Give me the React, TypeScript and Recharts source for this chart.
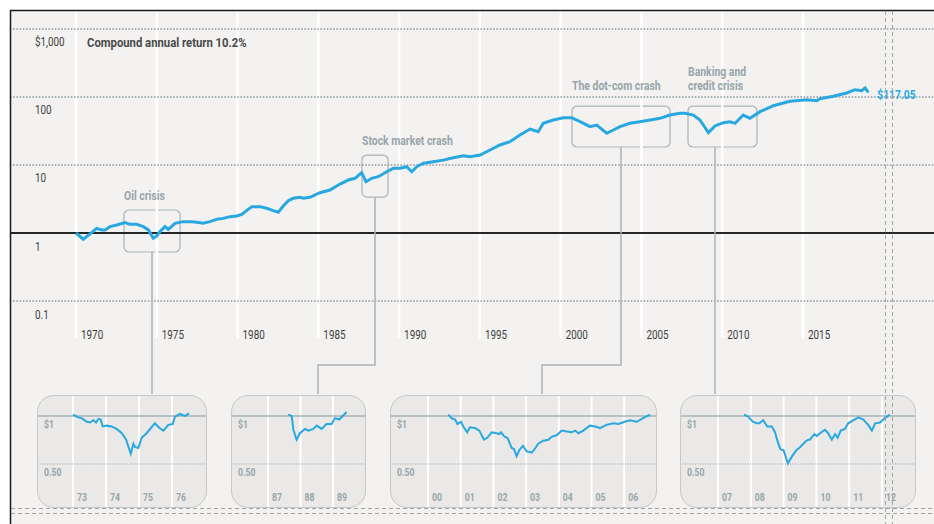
import React from 'react';
import { LineChart, Line, XAxis, YAxis, ReferenceLine, ReferenceArea, ReferenceDot } from 'recharts';

const FONT = "Roboto, 'Liberation Sans', sans-serif";
const BLUE = '#29a8e0';
const GRID_GRAY = '#8e9ca3';
const LABEL_GRAY = '#98a5ab';
const NUM_SCALE = 0.76;
const WORD_SCALE = 0.87;

// ---------- main series ----------
const mainYears = [1970.0, 1970.45, 1970.97, 1971.28, 1971.59, 1971.8, 1972.1, 1972.52, 1973.03, 1973.34, 1973.76, 1974.17, 1974.48, 1974.78, 1974.99, 1975.2, 1975.51, 1975.71, 1976.13, 1976.64, 1977.06, 1977.47, 1977.88, 1978.29, 1978.71, 1979.12, 1979.53, 1979.95, 1980.26, 1980.66, 1980.88, 1981.39, 1981.8, 1982.21, 1982.52, 1982.83, 1983.14, 1983.45, 1983.87, 1984.07, 1984.48, 1985.1, 1985.72, 1986.34, 1986.85, 1987.27, 1987.68, 1987.95, 1988.3, 1988.71, 1989.23, 1989.64, 1990.05, 1990.47, 1990.78, 1991.09, 1991.5, 1992.12, 1992.73, 1993.35, 1993.97, 1994.39, 1995.01, 1995.63, 1996.24, 1996.86, 1997.48, 1998.1, 1998.61, 1998.92, 1999.54, 2000.16, 2000.68, 2001.2, 2001.81, 2002.23, 2002.85, 2003.26, 2003.67, 2004.29, 2004.91, 2005.53, 2006.15, 2006.76, 2007.38, 2007.69, 2008.21, 2008.62, 2008.83, 2009.14, 2009.55, 2010.07, 2010.48, 2010.79, 2011.3, 2011.72, 2012.34, 2013.16, 2014.19, 2015.23, 2015.85, 2016.05, 2016.87, 2017.7, 2018.22, 2018.63, 2018.84, 2019.04];
const mainValues = [1.0, 0.81, 1.01, 1.17, 1.11, 1.11, 1.24, 1.31, 1.42, 1.34, 1.34, 1.24, 1.11, 0.84, 0.9, 1.05, 1.24, 1.13, 1.39, 1.47, 1.47, 1.44, 1.39, 1.47, 1.59, 1.64, 1.74, 1.78, 1.88, 2.23, 2.44, 2.44, 2.31, 2.13, 2.02, 2.5, 2.99, 3.24, 3.35, 3.24, 3.35, 3.91, 4.29, 5.25, 6.01, 6.37, 7.7, 5.68, 6.37, 6.73, 7.97, 8.94, 8.94, 9.44, 7.97, 9.44, 10.6, 11.2, 11.8, 12.8, 13.7, 13.2, 14.0, 16.6, 19.7, 22.0, 27.6, 33.8, 30.9, 41.0, 45.9, 49.6, 49.6, 43.3, 36.6, 38.7, 29.3, 32.7, 36.6, 41.0, 43.3, 45.9, 48.6, 54.3, 57.6, 57.6, 54.3, 45.9, 38.7, 29.9, 37.5, 41.9, 43.3, 41.0, 54.3, 48.6, 60.8, 74.5, 86.4, 91.3, 88.3, 94.4, 102.4, 114.5, 128, 124, 135.6, 117.05];

const yearTicks = [1970, 1975, 1980, 1985, 1990, 1995, 2000, 2005, 2010, 2015];
const valueTicks = [0.1, 1, 10, 100, 1000];
const valueTickLabels = ['0.1', '1', '10', '100', '$1,000'];

const headline = 'Compound annual return 10.2%';
const endLabel = '$117.05';

// crisis windows (years and value range of the highlight boxes)
const crisisNames = [['Oil crisis'], ['Stock market crash'], ['The dot-com crash'], ['Banking and', 'credit crisis']];
const crisisStart = [1972.97, 1987.7, 2000.7, 2007.88];
const crisisEnd = [1976.44, 1989.31, 2006.77, 2012.15];
const crisisLow = [0.526, 3.38, 18.4, 18.4];
const crisisHigh = [2.18, 14.0, 73.6, 73.6];

// ---------- inset series ----------
const inset1Years = [1973.0, 1973.16, 1973.26, 1973.42, 1973.52, 1973.62, 1973.7, 1973.77, 1973.84, 1973.9, 1974.02, 1974.17, 1974.32, 1974.48, 1974.61, 1974.75, 1974.83, 1974.88, 1974.98, 1975.08, 1975.23, 1975.48, 1975.62, 1975.74, 1975.89, 1976.02, 1976.09, 1976.24, 1976.39, 1976.52];
const inset1Values = [1.02, 0.98, 0.97, 0.92, 0.91, 0.94, 0.91, 0.96, 0.95, 0.86, 0.87, 0.86, 0.83, 0.78, 0.71, 0.58, 0.67, 0.64, 0.63, 0.73, 0.78, 0.9, 0.84, 0.81, 0.88, 0.89, 0.99, 1.03, 1.0, 1.04];
const inset1Ticks = [1973, 1974, 1975, 1976];

const inset2Years = [1987.62, 1987.73, 1987.78, 1987.88, 1987.98, 1988.14, 1988.24, 1988.39, 1988.5, 1988.65, 1988.8, 1988.96, 1989.06, 1989.19, 1989.42];
const inset2Values = [1.02, 1.0, 0.82, 0.71, 0.78, 0.83, 0.81, 0.83, 0.87, 0.83, 0.89, 0.89, 0.97, 0.95, 1.06];
const inset2Ticks = [1987, 1988, 1989];

const inset3Years = [2000.62, 2000.72, 2000.83, 2000.9, 2001.01, 2001.08, 2001.2, 2001.28, 2001.44, 2001.57, 2001.71, 2001.81, 2001.95, 2002.1, 2002.18, 2002.23, 2002.35, 2002.43, 2002.56, 2002.63, 2002.71, 2002.79, 2002.9, 2003.02, 2003.17, 2003.24, 2003.37, 2003.53, 2003.68, 2003.78, 2003.94, 2004.09, 2004.24, 2004.39, 2004.5, 2004.6, 2004.75, 2004.95, 2005.11, 2005.26, 2005.46, 2005.67, 2005.82, 2006.02, 2006.18, 2006.38, 2006.58, 2006.79];
const inset3Values = [1.02, 0.97, 0.95, 0.89, 0.92, 0.86, 0.79, 0.85, 0.84, 0.81, 0.71, 0.73, 0.79, 0.78, 0.77, 0.79, 0.74, 0.73, 0.63, 0.62, 0.56, 0.61, 0.65, 0.6, 0.59, 0.61, 0.67, 0.7, 0.71, 0.74, 0.76, 0.81, 0.8, 0.79, 0.81, 0.78, 0.81, 0.87, 0.86, 0.84, 0.88, 0.9, 0.89, 0.92, 0.94, 0.92, 0.97, 1.02];
const inset3Ticks = [2000, 2001, 2002, 2003, 2004, 2005, 2006];

const inset4Years = [2007.79, 2007.92, 2008.06, 2008.18, 2008.26, 2008.38, 2008.5, 2008.64, 2008.74, 2008.81, 2008.9, 2009.0, 2009.13, 2009.26, 2009.39, 2009.51, 2009.66, 2009.75, 2009.8, 2009.94, 2010.01, 2010.11, 2010.26, 2010.36, 2010.47, 2010.57, 2010.65, 2010.74, 2010.87, 2010.97, 2011.12, 2011.28, 2011.43, 2011.58, 2011.69, 2011.79, 2011.94, 2012.09, 2012.24];
const inset4Values = [1.02, 0.99, 0.92, 0.9, 0.9, 0.94, 0.86, 0.86, 0.79, 0.7, 0.62, 0.61, 0.505, 0.56, 0.61, 0.64, 0.69, 0.71, 0.71, 0.77, 0.75, 0.78, 0.82, 0.78, 0.71, 0.77, 0.73, 0.81, 0.83, 0.9, 0.94, 0.98, 0.95, 0.88, 0.81, 0.9, 0.91, 0.97, 1.02];
const inset4Ticks = [2007, 2008, 2009, 2010, 2011, 2012];

const insetValueTicks = [0.5, 1];
const insetValueLabels = ['0.50', '$1'];

const zip = (xs: number[], ys: number[]) => xs.map((x, i) => ({ year: x, value: ys[i] }));
const mainData = zip(mainYears, mainValues);

// condensed text: a regular face squeezed horizontally
const CText = ({ x, y, s, size, bold, fill, children }: any) => (
  <text
    transform={`translate(${x},${y}) scale(${s},1)`}
    fontFamily={FONT}
    fontSize={size}
    fontWeight={bold ? 'bold' : 'normal'}
    fill={fill}
  >
    {children}
  </text>
);

// ---------- main chart pieces ----------
const YearTick = (p: any) => (
  <CText x={p.x + 5} y={338.5} s={NUM_SCALE} size={13} fill="#3d3d3d">{p.payload.value}</CText>
);

const ValueTick = (p: any) => {
  const i = valueTicks.indexOf(p.payload.value);
  return (
    <CText x={35} y={p.y + 17.5} s={NUM_SCALE} size={13} fill="#3d3d3d">{valueTickLabels[i]}</CText>
  );
};

const boxShape = (p: any) => (
  <rect x={p.x} y={p.y} width={p.width} height={p.height} rx={5} ry={5} fill="none" stroke="#a9b3b8" strokeWidth={1.2} />
);

const crisisLabel = (idx: number, gap: number) => (p: any) => {
  const lines = crisisNames[idx];
  return (
    <g>
      {lines.map((t, k) => (
        <CText key={k} x={p.cx} y={p.cy - gap - (lines.length - 1 - k) * 14} s={WORD_SCALE} size={12} bold fill={LABEL_GRAY}>
          {t}
        </CText>
      ))}
    </g>
  );
};

const EndLabel = (p: any) => (
  <CText x={p.cx + 9} y={p.cy + 7} s={NUM_SCALE} size={13.5} bold fill={BLUE}>{endLabel}</CText>
);

// ---------- inset ----------
type InsetProps = {
  left: number; top: number; width: number; height: number;
  years: number[]; values: number[]; ticks: number[]; domain: [number, number];
};

const INSET_H = 113;

function Inset({ left, top, width, height, years, values, ticks, domain }: InsetProps) {
  const data = zip(years, values);
  const InsetYearTick = (p: any) => (
    <CText x={p.x + 4} y={106} s={NUM_SCALE} size={11.5} bold fill={LABEL_GRAY}>
      {String(p.payload.value).slice(2)}
    </CText>
  );
  const InsetValueTick = (p: any) => {
    const i = insetValueTicks.indexOf(p.payload.value);
    return (
      <CText x={8} y={p.y + 12} s={NUM_SCALE} size={11.5} bold fill={LABEL_GRAY}>{insetValueLabels[i]}</CText>
    );
  };
  return (
    <div style={{ position: 'absolute', left, top, width, height }}>
      <div style={{ position: 'absolute', left: 0, top: 0, width, height, borderRadius: 17, overflow: 'hidden', background: '#ebe9e7' }}>
        <div style={{ position: 'absolute', left: -1, top: 0 }}>
          <LineChart width={width + 1} height={height + 1} data={data} margin={{ top: 0, right: 0, bottom: 0, left: 0 }}>
            <XAxis dataKey="year" type="number" domain={domain} allowDataOverflow ticks={ticks} interval={0} height={1} axisLine={false} tickLine={false} tick={InsetYearTick} />
            <YAxis type="number" scale="log" domain={[0.2648, 1.3543]} allowDataOverflow ticks={insetValueTicks} width={1} axisLine={false} tickLine={false} tick={InsetValueTick} />
            {ticks.map((t) => (
              <ReferenceLine key={'v' + t} x={t} stroke="#ffffff" strokeWidth={2} />
            ))}
            <ReferenceLine y={1} stroke="#a6b3b9" strokeWidth={1.5} />
            <ReferenceLine y={0.5} stroke={GRID_GRAY} strokeWidth={1} strokeDasharray="1 1.5" />
            <Line dataKey="value" stroke={BLUE} strokeWidth={2} dot={false} isAnimationActive={false} type="linear" />
          </LineChart>
        </div>
      </div>
      <div style={{ position: 'absolute', left: 0, top: 0, width, height, borderRadius: 17, border: '1px solid #c6c8c9', boxSizing: 'border-box', pointerEvents: 'none' }} />
    </div>
  );
}

export default function App() {
  return (
    <div style={{ position: 'absolute', left: 0, top: 0, width: 934, height: 524, background: '#ffffff', overflow: 'hidden' }}>
      <div style={{ position: 'absolute', left: 10, top: 10, width: 924, height: 514, background: '#f3f2f0' }} />
      <div style={{ position: 'absolute', left: 0, top: 0 }}>
        <LineChart width={934} height={524} data={mainData} margin={{ top: 10, right: 0, bottom: 156, left: 9 }}>
          <XAxis dataKey="year" type="number" domain={[1965.915, 2023.107]} allowDataOverflow ticks={yearTicks} interval={0} height={30} axisLine={false} tickLine={false} tick={YearTick} />
          <YAxis type="number" scale="log" domain={[0.02858, 1902]} allowDataOverflow ticks={valueTicks} width={1} axisLine={false} tickLine={false} tick={ValueTick} />
          {yearTicks.map((t) => (
            <ReferenceLine key={'x' + t} x={t} stroke="#ffffff" strokeWidth={2.5} />
          ))}
          {valueTicks.filter((v) => v !== 1).map((v) => (
            <ReferenceLine key={'y' + v} y={v} stroke={GRID_GRAY} strokeWidth={1.6} strokeDasharray="1.6 1.6" />
          ))}
          <ReferenceLine y={1} stroke="#262626" strokeWidth={2} />
          {crisisNames.map((_, i) => (
            <ReferenceArea key={'c' + i} x1={crisisStart[i]} x2={crisisEnd[i]} y1={crisisLow[i]} y2={crisisHigh[i]} ifOverflow="visible" shape={boxShape} />
          ))}
          <Line dataKey="value" stroke={BLUE} strokeWidth={3} dot={false} isAnimationActive={false} type="linear" />
          {crisisNames.map((_, i) => (
            <ReferenceDot key={'l' + i} x={crisisStart[i]} y={crisisHigh[i]} r={0} ifOverflow="visible" shape={crisisLabel(i, i < 2 ? 10 : 16)} />
          ))}
          <ReferenceDot x={mainYears[mainYears.length - 1]} y={mainValues[mainValues.length - 1]} r={0} ifOverflow="visible" shape={EndLabel} />
        </LineChart>
      </div>
      <svg width={934} height={524} style={{ position: 'absolute', left: 0, top: 0, pointerEvents: 'none' }}>
        <CText x={87} y={46.5} s={WORD_SCALE} size={13} bold fill="#4a4a4a">{headline}</CText>
        <g fill="none" stroke="#a9b3b8" strokeWidth={1.5}>
          <path d="M152,252 V394" />
          <path d="M375,197 V365 H318 V394" />
          <path d="M621,147 V365 H542 V394" />
          <path d="M715,147 V394" />
        </g>
      </svg>
      <Inset left={37} top={395} width={170} height={INSET_H} years={inset1Years} values={inset1Values} ticks={inset1Ticks} domain={[1971.909, 1977.061]} />
      <Inset left={231} top={395} width={135} height={INSET_H} years={inset2Years} values={inset2Values} ticks={inset2Ticks} domain={[1985.862, 1990.015]} />
      <Inset left={390} top={395} width={267} height={INSET_H} years={inset3Years} values={inset3Values} ticks={inset3Ticks} domain={[1998.838, 2007.003]} />
      <Inset left={680} top={395} width={236} height={INSET_H} years={inset4Years} values={inset4Values} ticks={inset4Ticks} domain={[2005.841, 2013.037]} />
      <svg width={934} height={524} style={{ position: 'absolute', left: 0, top: 0, pointerEvents: 'none' }}>
        <line x1={10} y1={10.5} x2={934} y2={10.5} stroke="#1a1a1a" strokeWidth={1.5} />
        <line x1={10.5} y1={10} x2={10.5} y2={524} stroke="#1a1a1a" strokeWidth={1.5} />
        <g stroke="#a3a3a3" strokeWidth={1} strokeDasharray="4 3" fill="none">
          <line x1={885.5} y1={11} x2={885.5} y2={524} />
          <line x1={892.5} y1={11} x2={892.5} y2={524} />
          <line x1={11} y1={508.5} x2={934} y2={508.5} />
          <line x1={11} y1={513.5} x2={934} y2={513.5} />
        </g>
      </svg>
    </div>
  );
}
